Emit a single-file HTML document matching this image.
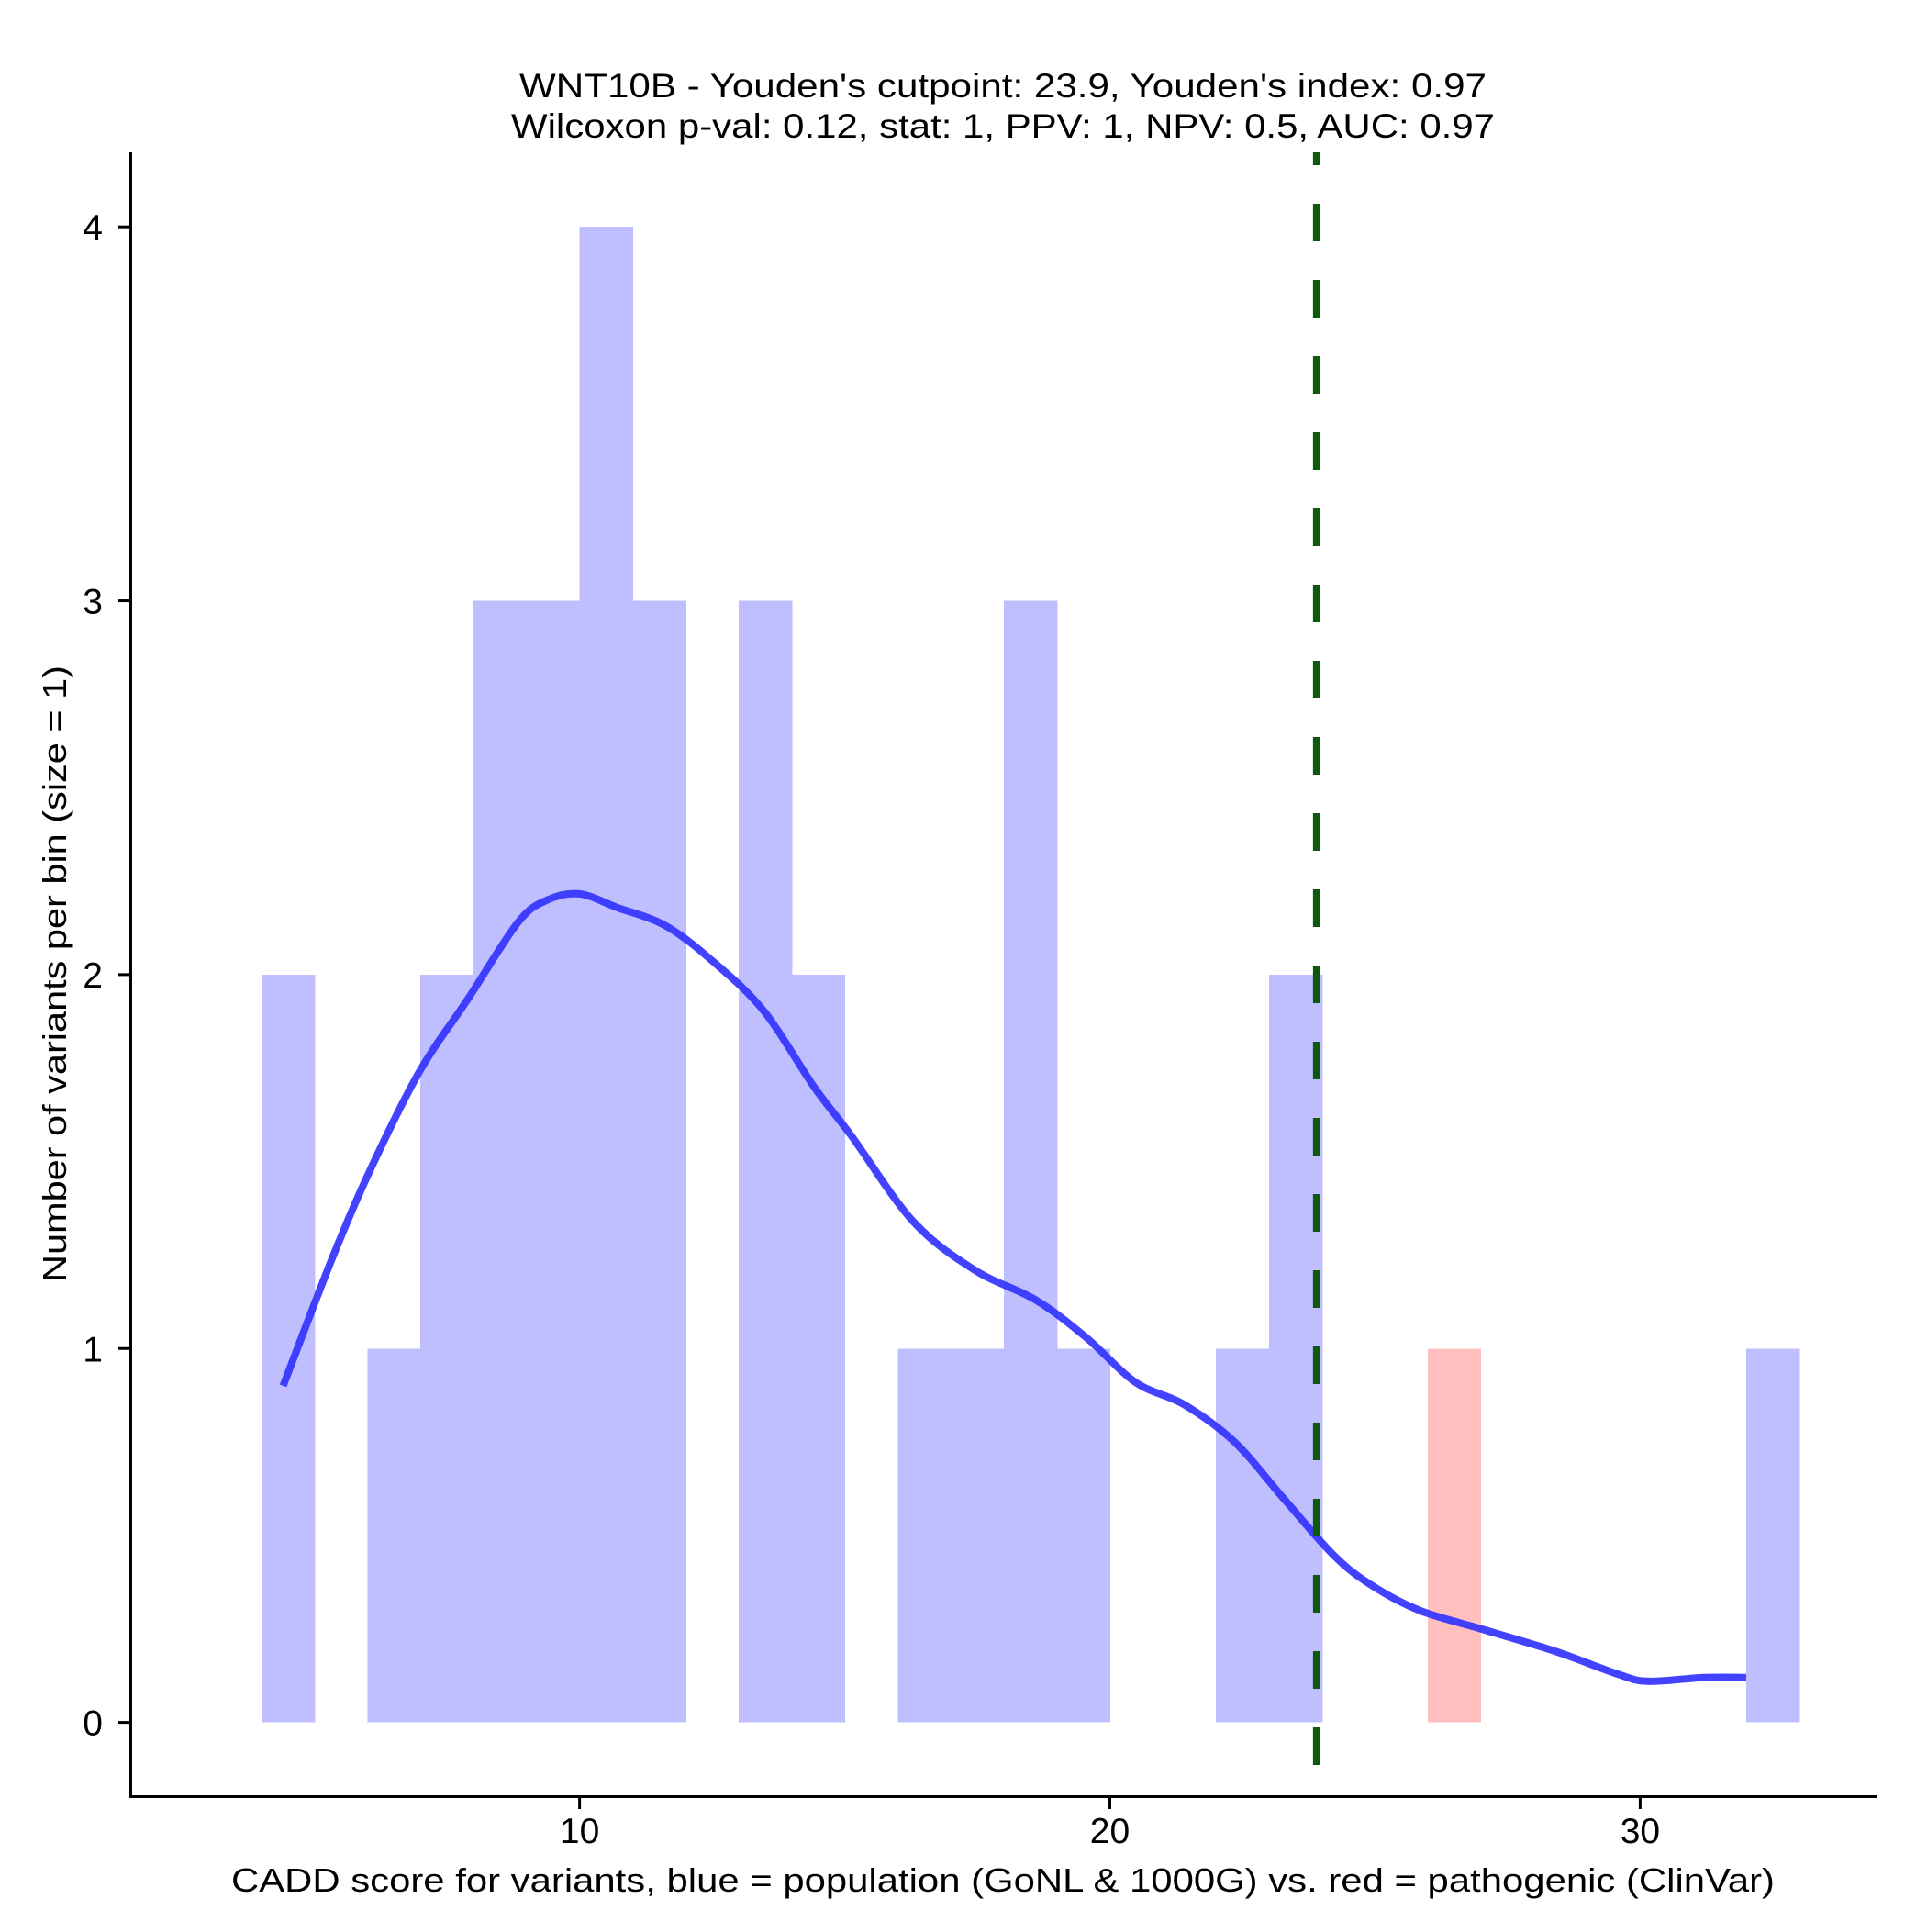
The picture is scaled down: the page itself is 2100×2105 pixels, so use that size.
<!DOCTYPE html>
<html><head><meta charset="utf-8"><style>
html,body{margin:0;padding:0;background:#fff}
text{font-family:"Liberation Sans",Arial,sans-serif;fill:#000}
</style></head><body>
<svg id="chart" width="2100" height="2100" viewBox="0 0 2100 2100" xmlns="http://www.w3.org/2000/svg">
<g>
<text x="1093" y="106" font-size="37" text-anchor="middle" textLength="1054" lengthAdjust="spacingAndGlyphs">WNT10B - Youden's cutpoint: 23.9, Youden's index: 0.97</text>
<text x="1093" y="150" font-size="37" text-anchor="middle" textLength="1072" lengthAdjust="spacingAndGlyphs">Wilcoxon p-val: 0.12, stat: 1, PPV: 1, NPV: 0.5, AUC: 0.97</text>
</g>
<g id="bars" shape-rendering="crispEdges"></g>
<g id="curve"></g>
<g id="cut"></g>
<g id="axes"></g>
<text x="1093" y="2061" font-size="36" text-anchor="middle" textLength="1682" lengthAdjust="spacingAndGlyphs">CADD score for variants, blue = population (GoNL &amp; 1000G) vs. red = pathogenic (ClinVar)</text>
<text x="0" y="0" font-size="36" text-anchor="middle" transform="translate(72,1061) rotate(-90)" textLength="672" lengthAdjust="spacingAndGlyphs">Number of variants per bin (size = 1)</text>
</svg>
<script>
const popBinStarts = [4,5,6,7,8,9,10,11,12,13,14,15,16,17,18,19,20,21,22,23,32];
const popCounts    = [2,0,1,2,3,3,4,3,0,3,2,0,1,1,3,1,0,0,1,2,1];
const pathBinStarts = [26];
const pathCounts    = [1];
const densityX = [4.41,5.34,6.04,6.97,7.9,8.84,9.4,10,10.7,11.63,12.56,13.49,14.42,15.12,16.29,17.45,18.6,19.55,20.48,21.4,22.35,23.27,24.2,24.9,25.83,27,28.4,29.56,30.14,31.2,32];
const densityY = [0.9,1.243,1.474,1.738,1.936,2.14,2.2,2.216,2.18,2.13,2.03,1.9,1.7,1.57,1.34,1.21,1.13,1.03,0.91,0.85,0.75,0.6,0.45,0.37,0.3,0.25,0.19,0.13,0.11,0.12,0.12];
const cutpoint = 23.9;
const xTicks = [10,20,30];
const yTicks = [0,1,2,3,4];

const NS='http://www.w3.org/2000/svg';
const X = v => 53.7 + v*57.79;
const Y = v => 1876.6 - v*407.35;
function mk(tag, attrs, parent){const e=document.createElementNS(NS,tag);for(const k in attrs)e.setAttribute(k,attrs[k]);parent.appendChild(e);return e;}

const bars=document.getElementById('bars');
popBinStarts.forEach((b,i)=>{ if(!popCounts[i])return;
  const r=mk('rect',{x:X(b),y:Y(popCounts[i]),width:X(b+1)-X(b)+0.6,height:Y(0)-Y(popCounts[i]),fill:'#bfbfff'},bars);
  
  
});
pathBinStarts.forEach((b,i)=>{
  const r=mk('rect',{x:X(b),y:Y(pathCounts[i]),width:X(b+1)-X(b),height:Y(0)-Y(pathCounts[i]),fill:'#ffbfbf'},bars);
  
  
});

const pts=densityX.map((x,i)=>[X(x),Y(densityY[i])]);
let d='M'+pts[0][0]+','+pts[0][1];
for(let i=0;i<pts.length-1;i++){
  const p0=pts[i-1]||pts[i],p1=pts[i],p2=pts[i+1],p3=pts[i+2]||p2;
  d+=' C'+(p1[0]+(p2[0]-p0[0])/6)+','+(p1[1]+(p2[1]-p0[1])/6)+' '+(p2[0]-(p3[0]-p1[0])/6)+','+(p2[1]-(p3[1]-p1[1])/6)+' '+p2[0]+','+p2[1];
}
const c=mk('path',{d:d,fill:'none',stroke:'#3333ff','stroke-opacity':0.92,'stroke-width':8,'stroke-linejoin':'round'},document.getElementById('curve'));



const cl=mk('line',{x1:X(cutpoint),x2:X(cutpoint),y1:166,y2:1957,stroke:'#0d5a0d','stroke-width':8,'stroke-dasharray':'41 42','stroke-dashoffset':'27'},document.getElementById('cut'));



const ax=document.getElementById('axes');
const ya=mk('line',{x1:142.5,x2:142.5,y1:166,y2:1959,stroke:'#000','stroke-width':3},ax);


const xa=mk('line',{x1:141,x2:2045,y1:1957.5,y2:1957.5,stroke:'#000','stroke-width':3},ax);


yTicks.forEach(t=>{
  mk('line',{x1:129,x2:142,y1:Y(t),y2:Y(t),stroke:'#000','stroke-width':3},ax);
  const tx=mk('text',{x:112,y:Y(t)+14,'font-size':39,'text-anchor':'end'},ax);
  tx.textContent=t;
  
  
});
xTicks.forEach(t=>{
  mk('line',{x1:X(t),x2:X(t),y1:1958,y2:1971,stroke:'#000','stroke-width':3},ax);
  const tx=mk('text',{x:X(t),y:2008,'font-size':39,'text-anchor':'middle'},ax);
  tx.textContent=t;
  
  
});
</script>
</body></html>
